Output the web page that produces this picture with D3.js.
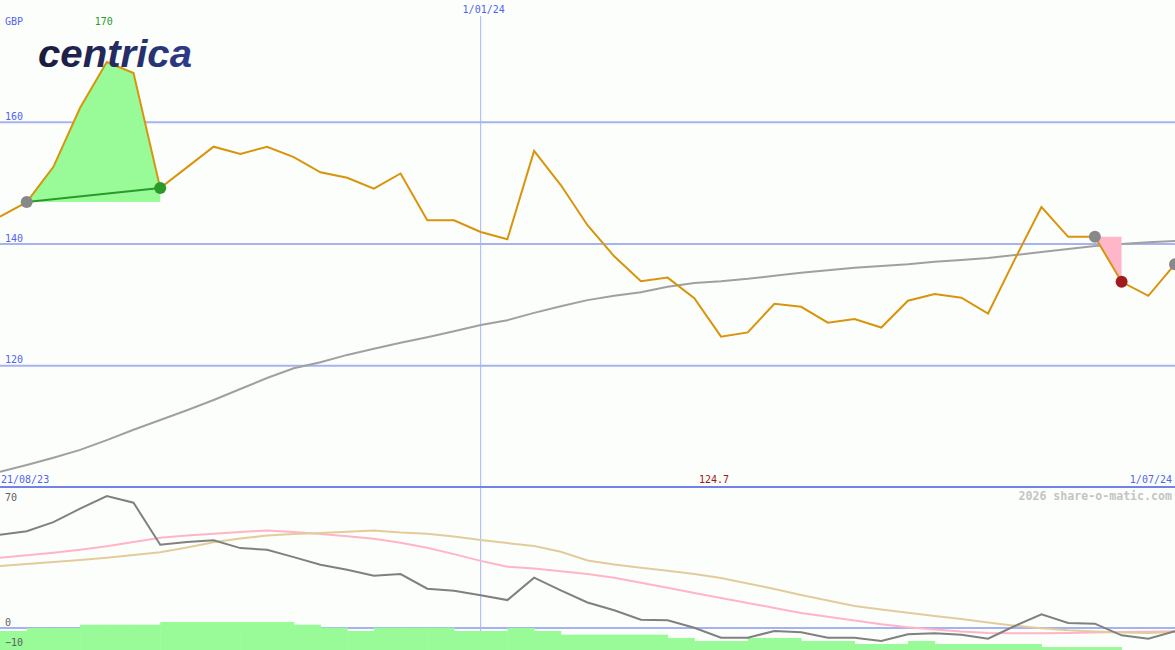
<!DOCTYPE html>
<html><head><meta charset="utf-8">
<script src="https://cdnjs.cloudflare.com/ajax/libs/d3/7.8.5/d3.min.js"></script>
<style>html,body{margin:0;padding:0;background:#fcfefb;overflow:hidden}</style>
</head><body><svg id="c" width="1175" height="650"></svg>
<script>
// weekly dates (category axis)
const dates = ["28/08/23","4/09/23","11/09/23","18/09/23","25/09/23","2/10/23","9/10/23","16/10/23","23/10/23","30/10/23",
"6/11/23","13/11/23","20/11/23","27/11/23","4/12/23","11/12/23","18/12/23","25/12/23","1/01/24","8/01/24",
"15/01/24","22/01/24","29/01/24","5/02/24","12/02/24","19/02/24","26/02/24","4/03/24","11/03/24","18/03/24",
"25/03/24","1/04/24","8/04/24","15/04/24","22/04/24","29/04/24","6/05/24","13/05/24","20/05/24","27/05/24",
"3/06/24","10/06/24","17/06/24","24/06/24","1/07/24"];
// share price (GBp)
const price = [144.4,146.8,152.6,162.3,169.8,168.0,149.1,152.5,155.9,154.7,155.9,154.2,151.7,150.8,149.0,151.5,143.8,143.8,141.9,140.7,
155.2,149.6,143.0,137.9,133.8,134.4,131.0,124.7,125.4,130.1,129.6,127.0,127.6,126.2,130.6,131.7,131.1,128.5,137.4,146.0,
141.1,141.1,133.7,131.4,136.6];
// long moving average
const movingAvg = [102.5,103.6,104.8,106.1,107.7,109.4,111.0,112.6,114.3,116.1,117.9,119.5,120.5,121.7,122.7,123.7,124.6,125.6,126.6,127.4,
128.6,129.7,130.7,131.4,132.0,132.9,133.5,133.8,134.2,134.7,135.2,135.6,136.0,136.3,136.6,137.0,137.3,137.6,138.1,138.6,
139.1,139.6,139.9,140.2,140.4];
// lower panel: oscillator and its two signal lines
const oscillator = [46.4,48.1,52.7,59.4,65.7,62.4,41.4,42.7,43.6,39.7,38.9,35.2,31.4,28.9,25.9,26.7,19.4,18.4,16.1,13.7,
24.9,18.6,12.5,8.6,3.9,3.6,-0.1,-5.1,-5.1,-1.75,-2.4,-5.1,-5.1,-6.75,-3.4,-2.9,-3.6,-5.6,0.75,6.6,
2.25,1.9,-3.9,-5.6,-1.9];
const signalPink = [34.9,36.1,37.4,38.9,40.6,42.8,44.9,46.0,46.9,47.8,48.5,47.8,46.7,45.6,44.4,42.4,39.9,36.7,33.3,30.4,
29.5,28.1,26.8,24.9,22.4,19.9,17.3,14.8,12.3,9.8,7.3,5.4,3.5,1.6,0.1,-1.0,-2.0,-2.7,-2.9,-2.9,
-2.8,-2.5,-2.3,-2.1,-1.9];
const signalTan = [30.75,31.7,32.75,33.8,34.9,36.2,37.6,40.0,42.6,44.5,46.0,46.7,47.2,47.9,48.5,47.5,46.9,45.5,43.8,42.2,
40.8,37.9,33.5,31.5,29.9,28.4,26.7,24.7,22.0,19.3,16.3,13.5,10.8,9.0,7.4,5.8,4.2,2.5,0.9,-0.4,
-1.4,-2.0,-2.5,-2.8,-2.1];
// histogram bars (one per week interval)
const histBars = [-1.75,-0.25,-0.25,1.4,1.4,1.4,2.75,2.75,2.75,2.75,2.75,1.4,-0.1,-1.75,-0.1,-0.1,-0.1,-1.75,-1.75,-0.25,
-1.75,-3.6,-3.6,-3.6,-3.6,-5.25,-6.75,-6.75,-5.25,-5.25,-6.75,-6.75,-8.25,-8.25,-6.75,-8.25,-8.25,-8.25,-8.25,-9.75,
-9.75,-9.75,null,null];
const priceTicks = [160,140,120];
const lowerTicks = [70,0,-10];
const dateLabels = ["21/08/23","1/01/24","1/07/24"];
const upStart = 1, upEnd = 6, downStart = 41, downEnd = 42, lastIdx = 44;

const W = 1175, H = 650;
const svg = d3.select("#c");
const mono = "'DejaVu Sans Mono', monospace";
const gridCol = "#a6b3f2", labCol = "#5064f0";

const x = d3.scalePoint().domain(dates).range([0, W]);
const step = x.step();
const y = d3.scaleLinear().domain([100, 180]).range([487, 0]);
const yl = d3.scaleLinear().domain([0, 70]).range([627.5, 487.5]);
const X = i => x(dates[i]);

// main gridlines via axis
const ax = svg.append("g").call(d3.axisLeft(y).tickValues(priceTicks).tickSize(-W).tickFormat(d3.format("d")));
ax.select(".domain").remove();
ax.selectAll("line").attr("stroke", gridCol).attr("stroke-width", 2);
ax.selectAll("text").attr("x", 5).attr("dy", -2.3).attr("text-anchor", "start")
  .attr("fill", labCol).attr("font-family", mono).attr("font-size", 10);

// vertical date line (1/01/24)
svg.append("line").attr("x1", x(dates[18])).attr("x2", x(dates[18])).attr("y1", 16).attr("y2", H)
  .attr("stroke", gridCol).attr("stroke-width", 1);

// lower axis gridline (0 only)
const laxLines = svg.append("g").call(d3.axisLeft(yl).tickValues(lowerTicks).tickSize(-W).tickFormat(""));
laxLines.select(".domain").remove();
laxLines.selectAll("text").remove();
laxLines.selectAll("line").attr("stroke", d => d === 0 ? gridCol : "none").attr("stroke-width", 2);

// histogram bars
svg.append("g").selectAll("rect").data(histBars.map((v, i) => ({v, i})).filter(d => d.v !== null))
  .join("rect").attr("x", d => X(d.i)).attr("width", step + 0.5)
  .attr("y", d => yl(d.v)).attr("height", d => H - yl(d.v)).attr("fill", "#98fb98");

// lower axis labels
const laxText = svg.append("g").call(d3.axisLeft(yl).tickValues(lowerTicks).tickSize(0).tickFormat(d3.format("d")));
laxText.select(".domain").remove();
laxText.selectAll("line").remove();
laxText.selectAll("text").attr("x", 5).attr("dy", d => d === 70 ? 12.5 : -2)
  .attr("text-anchor", "start").attr("fill", "#606060").attr("font-family", mono).attr("font-size", 10);

// separator
svg.append("line").attr("x1", 0).attr("x2", W).attr("y1", 487).attr("y2", 487)
  .attr("stroke", "#7282e8").attr("stroke-width", 2);

const line = d3.line().x((d, i) => X(i)).y(d => y(d));
// moving average
svg.append("path").attr("d", line(movingAvg)).attr("fill", "none").attr("stroke", "#a0a0a0").attr("stroke-width", 2);

// rise fill
const upPts = d3.range(upStart, upEnd + 1).map(i => [X(i), y(price[i])]);
upPts.push([X(upEnd), y(price[upStart])]);
svg.append("path").attr("d", "M" + upPts.join("L") + "Z").attr("fill", "#98fb98");
// fall fill
const dnPts = [[X(downStart), y(price[downStart])], [X(downEnd), y(price[downEnd])], [X(downEnd), y(price[downStart])]];
svg.append("path").attr("d", "M" + dnPts.join("L") + "Z").attr("fill", "#ffb6c8");
// rise connector
svg.append("line").attr("x1", X(upStart)).attr("y1", y(price[upStart])).attr("x2", X(upEnd)).attr("y2", y(price[upEnd]))
  .attr("stroke", "#2a9a2a").attr("stroke-width", 2);

// price
svg.append("path").attr("d", line(price)).attr("fill", "none").attr("stroke", "#d8940c").attr("stroke-width", 2);

// markers
const marks = [[upStart, "#888888"], [upEnd, "#2a9a2a"], [downStart, "#888888"], [downEnd, "#a01c1c"], [lastIdx, "#888888"]];
svg.append("g").selectAll("circle").data(marks).join("circle")
  .attr("cx", d => X(d[0])).attr("cy", d => y(price[d[0]])).attr("r", 6).attr("fill", d => d[1]);

// lower lines
const lline = d3.line().x((d, i) => X(i)).y(d => yl(d));
svg.append("path").attr("d", lline(signalPink)).attr("fill", "none").attr("stroke", "#ffb4c8").attr("stroke-width", 2);
svg.append("path").attr("d", lline(signalTan)).attr("fill", "none").attr("stroke", "#e2cc9c").attr("stroke-width", 2);
svg.append("path").attr("d", lline(oscillator)).attr("fill", "none").attr("stroke", "#808080").attr("stroke-width", 2);

// texts
const t = (tx, ty, s, col, anchor, size, weight) => svg.append("text").attr("x", tx).attr("y", ty).text(s)
  .attr("fill", col).attr("font-family", mono).attr("font-size", size || 10)
  .attr("text-anchor", anchor || "start").attr("font-weight", weight || "normal");
t(5, 25, "GBP", labCol);
const maxI = d3.maxIndex(price), minI = d3.minIndex(price);
t(X(maxI) - 3, 25, d3.format(".0f")(price[maxI]), "#2a9a2a", "middle");
t(X(minI) - 7, 483, d3.format(".1f")(price[minI]), "#a01818", "middle");
t(1, 483, dateLabels[0], labCol);
t(x(dates[18]) + 3, 12.5, dateLabels[1], labCol, "middle");
t(1172, 483, dateLabels[2], labCol, "end");
t(1172, 500, "2026 share-o-matic.com", "#c4c4c4", "end", 11.6, "bold");

// logo
const defs = svg.append("defs");
const lg = defs.append("linearGradient").attr("id", "lg").attr("x1", 0).attr("x2", 1).attr("y1", 0).attr("y2", 0);
lg.append("stop").attr("offset", 0).attr("stop-color", "#1a1a3a");
lg.append("stop").attr("offset", 1).attr("stop-color", "#2e3c88");
svg.append("text").attr("x", 38).attr("y", 67).text("centrica")
  .attr("font-family", "'Liberation Sans', Arial, sans-serif").attr("font-weight", "bold").attr("font-style", "italic")
  .attr("font-size", 39).attr("textLength", 154).attr("lengthAdjust", "spacingAndGlyphs").attr("fill", "url(#lg)");
</script></body></html>
